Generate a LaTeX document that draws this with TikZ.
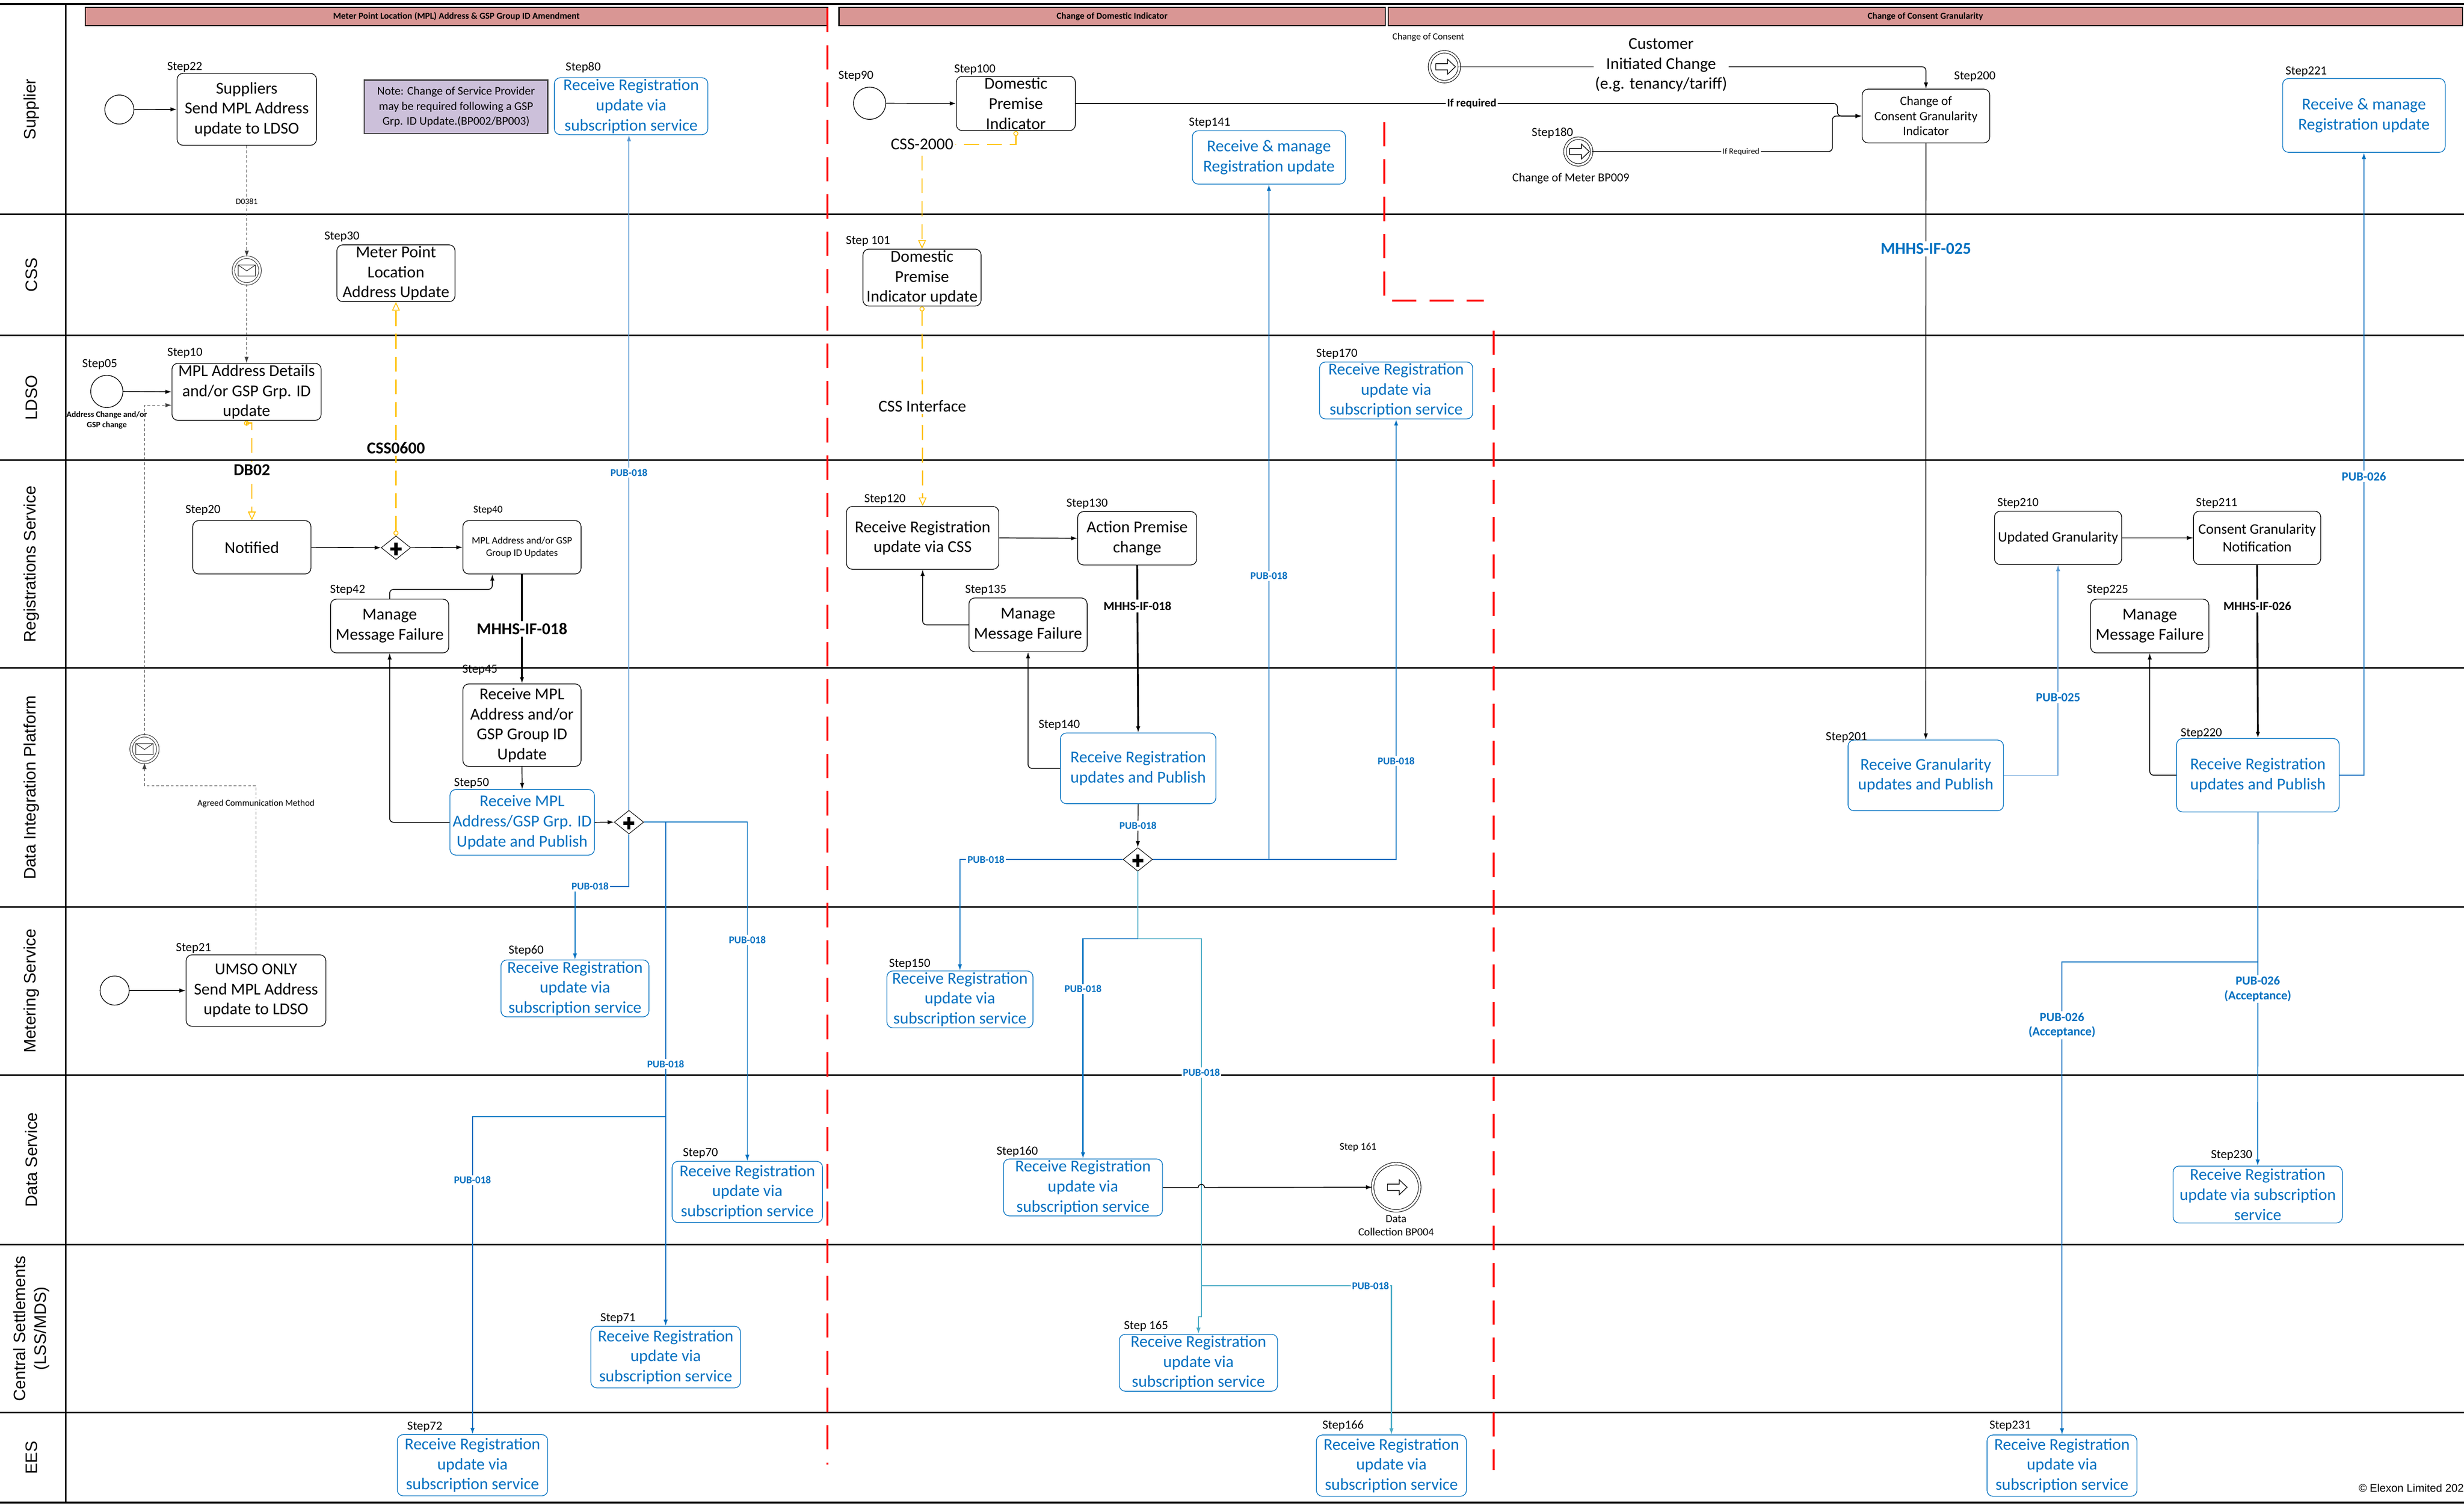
\documentclass[tikz,border=0pt]{standalone}
\usepackage{fontspec}
\setmainfont{Carlito}
\newfontfamily\lanefont{Liberation Sans}
\usetikzlibrary{positioning,arrows,arrows.meta,shapes.geometric}
\definecolor{mhblue}{RGB}{0,112,192}
\definecolor{mhsky}{RGB}{91,155,213}
\definecolor{mhteal}{RGB}{75,172,198}
\definecolor{phasefill}{RGB}{217,150,148}
\definecolor{notefill}{RGB}{204,192,218}
\definecolor{cssyellow}{RGB}{255,192,0}
\newcommand{\boxfont}{\fontsize{12}{14.5}\selectfont}
\newcommand{\stepfont}{\fontsize{9}{10}\selectfont}

\begin{document}
\begin{tikzpicture}[
    >={Latex[length=1.6mm,width=1.1mm]},
    lane/.style={draw=black, line width=1.1pt},
    lanelbl/.style={rotate=90, align=center, inner sep=0pt, font=\lanefont\fontsize{12}{15}\selectfont},
    phasebar/.style={rectangle, draw=black, line width=.8pt, fill=phasefill, minimum height=.46cm, inner sep=0pt, font=\bfseries\fontsize{6.6}{7}\selectfont},
    phase/.style={draw=red, line width=1.4pt, dash pattern=on .62cm off .33cm},
    taskbox/.style={rectangle, rounded corners=1.5mm, draw=black, line width=.5pt, align=center, inner sep=1pt, font=\boxfont},
    bluebox/.style={taskbox, draw=mhblue, text=mhblue},
    notebox/.style={rectangle, draw=black!75, line width=.8pt, fill=notefill, align=center, inner sep=1pt, font=\fontsize{8.5}{10.9}\selectfont},
    plain/.style={align=center, font=\boxfont, inner sep=.03cm},
    boxsize/.style 2 args={minimum width=#1cm, minimum height=#2cm},
    steplbl/.style={font=\stepfont, inner sep=0pt, yshift=.06cm},
    evlbl/.style={inner sep=0pt, align=center, font=\fontsize{8.8}{10.5}\selectfont},
    startev/.style={circle, draw=black, line width=.5pt, inner sep=0pt, minimum size=#1cm},
    msgev/.style={circle, draw=black!85, line width=.4pt, double, double distance=.05cm, inner sep=0pt, minimum size=.68cm,
        path picture={\draw[line width=.4pt, shift={(path picture bounding box.center)}] (-.22,-.14) rectangle (.22,.14) (-.22,.14) -- (0,-.01) -- (.22,.14);}},
    linkev/.style 2 args={circle, draw=black, line width=.4pt, double, double distance=.05cm, inner sep=0pt, minimum size=#1cm,
        path picture={\draw[line width=.5pt, shift={(path picture bounding box.center)}, scale=#2] (-.22,-.08) -- (.08,-.08) -- (.08,-.19) -- (.28,0) -- (.08,.19) -- (.08,.08) -- (-.22,.08) -- cycle;}},
    gateway/.style={diamond, draw=black, line width=.4pt, fill=white, inner sep=0pt, minimum width=.75cm, minimum height=.6cm,
        path picture={\draw[line width=.08cm, shift={(path picture bounding box.center)}] (-.14,-.03) -- (.14,-.03) (0,-.19) -- (0,.13);}},
    flow/.style={->, draw=black, line width=.6pt, rounded corners=.1cm},
    mainflow/.style={flow, line width=1.3pt},
    msgflow/.style={->, draw=black!75, line width=.4pt, dash pattern=on 2pt off 1.5pt},
    cssflow/.style={draw=cssyellow, line width=.9pt, dash pattern=on .38cm off .2cm, arrows={Circle[open,length=1.3mm,line width=.6pt]-Triangle[open,length=2.2mm,width=2mm,line width=.6pt]}},
    publine/.style={draw=mhblue, line width=.7pt},
    skyline/.style={draw=mhsky, line width=.6pt},
    tealline/.style={draw=mhteal, line width=.8pt},
    pub/.style={font=\bfseries\fontsize{7.5}{8.5}\selectfont, text=mhblue, fill=white, inner sep=1pt},
    pubbig/.style={pub, align=center, font=\bfseries\fontsize{9}{10.5}\selectfont},
    ifbig/.style={font=\bfseries\fontsize{12}{14}\selectfont, fill=white, inner sep=1.5pt},
    ifsmall/.style={font=\bfseries\fontsize{9}{11}\selectfont, fill=white, inner sep=1.5pt},
    csslbl/.style={font=\boxfont, fill=white, inner sep=1.5pt},
    msglbl/.style={font=\fontsize{6.5}{7.5}\selectfont, fill=white, inner sep=1pt},
]
\useasboundingbox (0,0) rectangle (62.76,-38.35);

\draw[lane] (0,-.10) -- (62.76,-.10);
\draw[lane] (0,-5.45) -- (62.76,-5.45);
\draw[lane] (0,-8.54) -- (62.76,-8.54);
\draw[lane] (0,-11.72) -- (62.76,-11.72);
\draw[lane] (0,-17.01) -- (62.76,-17.01);
\draw[lane] (0,-23.10) -- (62.76,-23.10);
\draw[lane] (0,-27.38) -- (62.76,-27.38);
\draw[lane] (0,-31.70) -- (62.76,-31.70);
\draw[lane] (0,-35.98) -- (62.76,-35.98);
\draw[lane] (0,-38.27) -- (62.76,-38.27);
\draw[lane] (1.67,-.10) -- (1.67,-38.27);

\node[lanelbl] (lnsup)  at (.80,-2.78)  {Supplier};
\node[lanelbl] (lncss)  at (.80,-7.00)  {CSS};
\node[lanelbl] (lnldso) at (.80,-10.13) {LDSO};
\node[lanelbl] (lnreg)  at (.80,-14.37) {Registrations Service};
\node[lanelbl] (lndip)  at (.80,-20.06) {Data Integration Platform};
\node[lanelbl] (lnms)   at (.80,-25.24) {Metering Service};
\node[lanelbl] (lnds)   at (.80,-29.54) {Data Service};
\node[lanelbl] (lncs)   at (.80,-33.84) {Central Settlements\\(LSS/MDS)};
\node[lanelbl] (lnees)  at (.80,-37.13) {EES};

\node[phasebar, minimum width=18.91cm] (ph1) at (11.625,-.42) {Meter Point Location (MPL) Address \& GSP Group ID Amendment};
\node[phasebar, minimum width=13.91cm] (ph2) at (28.325,-.42) {Change of Domestic Indicator};
\node[phasebar, minimum width=27.36cm] (ph3) at (49.04,-.42)  {Change of Consent Granularity};

\draw[phase] (21.07,-.20) -- (21.07,-37.30);
\draw[phase] (35.26,-3.11) -- (35.26,-7.66) -- (37.79,-7.66);
\draw[phase] (38.04,-8.42) -- (38.04,-37.44);

\node[startev=.74] (start22) at (3.04,-2.79) {};
\node[taskbox, boxsize={3.55}{1.83}, label={[steplbl,xshift=-1.58cm,yshift=-.04cm]above:Step22}] (step22) at (6.285,-2.785) {Suppliers\\Send MPL Address\\update to LDSO};
\node[notebox, boxsize={4.67}{1.36}] (note) at (11.615,-2.72) {Note: Change of Service Provider\\may be required following a GSP\\Grp. ID Update.(BP002/BP003)};
\node[bluebox, boxsize={3.91}{1.37}, label={[steplbl,xshift=-1.22cm,yshift=.05cm]above:Step80}] (step80) at (16.075,-2.705) {Receive Registration\\update via\\subscription service};
\node[msgev] (msg1) at (6.285,-6.89) {};
\node[taskbox, boxsize={3.01}{1.36}, label={[steplbl,xshift=-1.375cm]above:Step30}] (step30) at (10.085,-6.96) {Meter Point\\Location\\Address Update};
\node[startev=.82, label={[steplbl,xshift=-.18cm,yshift=.08cm]above:Step05}, label={[evlbl,font=\bfseries\fontsize{6}{7.4}\selectfont,yshift=-.08cm]below:Address Change and/or\\GSP change}] (start05) at (2.72,-9.97) {};
\node[taskbox, boxsize={3.80}{1.36}, label={[steplbl,xshift=-1.57cm,yshift=.06cm]above:Step10}] (step10) at (6.28,-9.98) {MPL Address Details\\and/or GSP Grp. ID\\update};
\node[taskbox, boxsize={3.01}{1.36}, label={[steplbl,xshift=-1.245cm,yshift=.06cm]above:Step20}] (step20) at (6.415,-13.94) {Notified};
\node[gateway] (gw1) at (10.085,-13.95) {};
\node[taskbox, boxsize={3.01}{1.36}, font=\fontsize{7.2}{9}\selectfont, label={[steplbl,font=\fontsize{7.5}{9}\selectfont,xshift=-.865cm,yshift=.08cm]above:Step40}] (step40) at (13.295,-13.94) {MPL Address and/or GSP\\Group ID Updates};
\node[taskbox, boxsize={3.01}{1.37}, label={[steplbl,xshift=-1.07cm,yshift=.03cm]above:Step42}] (step42) at (9.925,-15.945) {Manage\\Message Failure};
\node[taskbox, boxsize={3.01}{2.10}, label={[steplbl,xshift=-1.07cm,yshift=.15cm]above:Step45}] (step45) at (13.295,-18.47) {Receive MPL\\Address and/or\\GSP Group ID\\Update};
\node[bluebox, boxsize={3.68}{1.67}, label={[steplbl,xshift=-1.29cm,yshift=-.04cm]above:Step50}] (step50) at (13.30,-20.945) {Receive MPL\\Address/GSP Grp. ID\\Update and Publish};
\node[gateway] (gw2) at (16.02,-20.94) {};
\node[msgev] (msg2) at (3.68,-19.08) {};
\node[startev=.74] (start21) at (2.92,-25.23) {};
\node[taskbox, boxsize={3.56}{1.82}, label={[steplbl,xshift=-1.59cm,yshift=-.04cm]above:Step21}] (step21) at (6.52,-25.23) {UMSO ONLY\\Send MPL Address\\update to LDSO};
\node[bluebox, boxsize={3.77}{1.37}, label={[steplbl,xshift=-1.245cm,yshift=.03cm]above:Step60}] (step60) at (14.645,-25.175) {Receive Registration\\update via\\subscription service};
\node[bluebox, boxsize={3.83}{1.56}, label={[steplbl,xshift=-1.195cm]above:Step70}] (step70) at (19.035,-30.36) {Receive Registration\\update via\\subscription service};
\node[bluebox, boxsize={3.81}{1.57}, label={[steplbl,xshift=-1.215cm]above:Step71}] (step71) at (16.955,-34.565) {Receive Registration\\update via\\subscription service};
\node[bluebox, boxsize={3.83}{1.56}, label={[steplbl,xshift=-1.215cm]above:Step72}] (step72) at (12.035,-37.32) {Receive Registration\\update via\\subscription service};

\node[startev=.82, label={[steplbl,xshift=-.35cm,yshift=.08cm]above:Step90}] (start90) at (22.15,-2.63) {};
\node[taskbox, boxsize={3.03}{1.37}, label={[steplbl,xshift=-1.045cm,yshift=-.03cm]above:Step100}] (step100) at (25.875,-2.635) {Domestic\\Premise\\Indicator};
\node[taskbox, boxsize={3.01}{1.36}, label={[steplbl,xshift=-1.375cm]above:Step 101}] (step101) at (23.485,-7.07) {Domestic\\Premise\\Indicator update};
\node[bluebox, boxsize={3.90}{1.36}, label={[steplbl,xshift=-1.51cm]above:Step141}] (step141) at (32.32,-4.01) {Receive \& manage\\Registration update};
\node[bluebox, boxsize={3.90}{1.37}, label={[steplbl,xshift=-1.51cm]above:Step170}] (step170) at (35.56,-9.945) {Receive Registration\\update via\\subscription service};
\node[taskbox, boxsize={3.88}{1.60}, label={[steplbl,xshift=-.96cm,yshift=-.02cm]above:Step120}] (step120) at (23.50,-13.70) {Receive Registration\\update via CSS};
\node[taskbox, boxsize={3.03}{1.36}, label={[steplbl,xshift=-1.275cm]above:Step130}] (step130) at (28.965,-13.71) {Action Premise\\change};
\node[taskbox, boxsize={3.01}{1.37}, label={[steplbl,xshift=-1.075cm]above:Step135}] (step135) at (26.185,-15.915) {Manage\\Message Failure};
\node[bluebox, boxsize={3.96}{1.80}, label={[steplbl,xshift=-2.01cm]above:Step140}] (step140) at (28.99,-19.57) {Receive Registration\\updates and Publish};
\node[gateway] (gw3) at (28.98,-21.89) {};
\node[bluebox, boxsize={3.72}{1.37}, label={[steplbl,xshift=-1.28cm,yshift=-.03cm]above:Step150}] (step150) at (24.45,-25.455) {Receive Registration\\update via\\subscription service};
\node[bluebox, boxsize={4.05}{1.37}, label={[steplbl,xshift=-1.675cm,yshift=-.02cm]above:Step160}] (step160) at (27.585,-30.245) {Receive Registration\\update via\\subscription service};
\node[linkev={1.2}{1.55}, label={[steplbl,font=\fontsize{7.5}{9}\selectfont,xshift=-.97cm,yshift=.23cm]above:Step 161}, label={[evlbl,font=\fontsize{8}{9.5}\selectfont,yshift=-.1cm]below:Data\\Collection BP004}] (ev161) at (35.56,-30.24) {};
\node[bluebox, boxsize={4.03}{1.36}, label={[steplbl,xshift=-1.335cm]above:Step 165}] (step165) at (30.525,-34.71) {Receive Registration\\update via\\subscription service};
\node[bluebox, boxsize={3.82}{1.56}, label={[steplbl,xshift=-1.23cm,yshift=.03cm]above:Step166}] (step166) at (35.44,-37.33) {Receive Registration\\update via\\subscription service};

\node[linkev={.76}{1}, label={[evlbl,font=\fontsize{6.8}{8}\selectfont,xshift=-.41cm,yshift=.25cm]above:Change of Consent}] (consentEv) at (36.79,-1.70) {};
\node[plain] (cust) at (42.31,-1.66) {Customer\\Initiated Change\\(e.g. tenancy/tariff)};
\node[taskbox, boxsize={3.25}{1.37}, font=\fontsize{9.2}{10.9}\selectfont, label={[steplbl,xshift=1.245cm,yshift=.12cm]above:Step200}] (step200) at (49.055,-2.955) {Change of\\Consent Granularity\\Indicator};
\node[linkev={.68}{1.05}, label={[steplbl,xshift=-.66cm,yshift=-.08cm]above:Step180}, label={[evlbl,xshift=-.19cm,yshift=-.2cm]below:Change of Meter BP009}] (ev180) at (40.20,-3.86) {};
\node[bluebox, boxsize={4.14}{1.88}, label={[steplbl,xshift=-1.47cm,yshift=-.03cm]above:Step221}] (step221) at (60.21,-2.94) {Receive \& manage\\Registration update};
\node[taskbox, boxsize={3.24}{1.36}, font=\fontsize{10.5}{12.6}\selectfont, label={[steplbl,xshift=-1.02cm]above:Step210}] (step210) at (52.42,-13.70) {Updated Granularity};
\node[taskbox, boxsize={3.24}{1.36}, font=\fontsize{10.5}{12.6}\selectfont, label={[steplbl,xshift=-1.03cm]above:Step211}] (step211) at (57.49,-13.70) {Consent Granularity\\Notification};
\node[taskbox, boxsize={3.01}{1.37}, label={[steplbl,xshift=-1.075cm,yshift=.03cm]above:Step225}] (step225) at (54.755,-15.945) {Manage\\Message Failure};
\node[bluebox, boxsize={3.96}{1.80}, label={[steplbl,xshift=-2.02cm,yshift=-.14cm]above:Step201}] (step201) at (49.05,-19.75) {Receive Granularity\\updates and Publish};
\node[bluebox, boxsize={4.14}{1.87}, label={[steplbl,xshift=-1.44cm,yshift=-.07cm]above:Step220}] (step220) at (57.51,-19.745) {Receive Registration\\updates and Publish};
\node[bluebox, boxsize={4.31}{1.45}, label={[steplbl,xshift=-.665cm,yshift=.07cm]above:Step230}] (step230) at (57.505,-30.425) {Receive Registration\\update via subscription\\service};
\node[bluebox, boxsize={3.82}{1.56}, label={[steplbl,xshift=-1.32cm,yshift=.03cm]above:Step231}] (step231) at (52.52,-37.33) {Receive Registration\\update via\\subscription service};
\node[font=\lanefont\fontsize{8}{9}\selectfont, anchor=east, inner sep=0pt] (copyr) at (62.76,-37.90) {© Elexon Limited 202};

\coordinate (b72) at (16.955,-28.44);
\coordinate (split3) at (28.98,-23.91);
\coordinate (pubdn) at (30.60,-23.91);
\coordinate (jog165) at (30.60,-33.54);
\coordinate (b166) at (30.60,-32.75);
\coordinate (hop) at (30.52,-30.245);
\coordinate (split220) at (57.51,-24.50);

\draw[flow] (start22.east) -- (step22.west);
\draw[msgflow] (step22.south) -- node[msglbl,font=\fontsize{6}{7}\selectfont]{D0381} (msg1.north);
\draw[msgflow] (msg1.south) -- (step10.north);
\draw[flow] (start05.east) -- (step10.west);
\draw[msgflow] (msg2.north) |- ([yshift=-.34cm]step10.west);
\draw[msgflow] (step21.north) -- node[msglbl,pos=.895]{Agreed Communication Method} ++(0,4.30) -| (msg2.south);
\draw[cssflow] (step10.south) -- ++(0,-.06) -| node[ifbig,pos=.74]{DB02} (step20.north);
\draw[cssflow] (gw1.north) -- node[ifbig,pos=.374]{CSS0600} (step30.south);
\draw[flow] (step20.east) -- (gw1.west);
\draw[flow] (gw1.east) -- (step40.west);
\draw[flow] (step42.north) -- ++(0,.24) -| ([xshift=-.755cm]step40.south);
\draw[mainflow] (step40.south) -- node[ifbig]{MHHS-IF-018} (step45.north);
\draw[flow] (step45.south) -- (step50.north);
\draw[flow] (step50.west) -| (step42.south);
\draw[flow] (step50.east) -- (gw2.west);
\draw[flow] (start21.east) -- (step21.west);
\draw[skyline,->] (gw2.north) -- node[pub]{PUB-018} (gw2.north |- step80.south);
\draw[publine,->] (gw2.south) -- ++(0,-1.33) -| node[pub,pos=.36]{PUB-018} (step60.north);
\draw[publine,->] (gw2.east) -| node[pub,pos=.674]{PUB-018} (step70.north);
\draw[publine,->] (gw2.east -| step71.north) -- node[pub,pos=.48]{PUB-018} (step71.north);
\draw[publine,->] (b72) -| node[pub,pos=.6]{PUB-018} (step72.north);

\draw[flow] (start90.east) -- (step100.west);
\draw[cssflow] (step100.south) -- ++(0,-.34) -| node[csslbl,pos=.5]{CSS-2000} (step101.north);
\draw[cssflow] (step101.south) -- node[csslbl]{CSS Interface} (step120.north);
\draw[flow] (step120.east) -- (step130.west);
\draw[flow] (step135.west) -| (step120.south);
\draw[mainflow] (step130.south) -- node[ifsmall,pos=.243]{MHHS-IF-018} (step140.north);
\draw[flow] (step140.west) -| (step135.south);
\draw[flow] (step140.south) -- node[pub]{PUB-018} (gw3.north);
\draw[publine,->,line width=1pt] (gw3.east) -| node[pub,pos=.612]{PUB-018} (step170.south);
\draw[publine,->] (gw3.east -| step141.south) -- node[pub,pos=.42]{PUB-018} (step141.south);
\draw[publine,->] (gw3.west) -| node[pub,pos=.42]{PUB-018} (step150.north);
\draw[tealline,->] (gw3.south) -- (split3) -- (pubdn) -- node[pub,pos=.354]{PUB-018} (jog165) -| (step165.north);
\draw[publine,->,line width=1pt] (split3) -| node[pub,pos=.614]{PUB-018} (step160.north);
\draw[tealline,->] (b166) -| node[pub,pos=.445]{PUB-018} (step166.north);
\draw[flow,sharp corners] (step160.east) -- (hop) arc[start angle=180, end angle=0, radius=.08] -- (ev161.west);

\draw[flow] (step100.east) -| node[font=\bfseries\fontsize{8.2}{10}\selectfont, fill=white, inner sep=1pt, pos=.26]{If required} ([xshift=-.62cm]step200.west) -- (step200.west);
\draw[flow,-] (consentEv.east) -- (consentEv.east -| cust.west);
\draw[flow] (cust.east |- consentEv.east) -| (step200.north);
\draw[flow] (ev180.east) -| node[font=\fontsize{6}{7}\selectfont, fill=white, inner sep=1pt, pos=.31]{If Required} ([xshift=-.75cm]step200.west) -- (step200.west);
\draw[flow] (step200.south) -- node[ifbig,text=mhblue,pos=.177]{MHHS-IF-025} (step201.north);
\draw[skyline,->] (step201.east) -| node[pubbig,pos=.685]{PUB-025} (step210.south);
\draw[flow] (step210.east) -- (step211.west);
\draw[mainflow] (step211.south) -- node[ifsmall,pos=.237]{MHHS-IF-026} (step220.north);
\draw[flow] (step220.west) -| (step225.south);
\draw[publine,->] (step220.east) -| node[pubbig,pos=.74]{PUB-026} (step221.south);
\draw[publine,->] (step220.south) -- node[pubbig]{PUB-026\\(Acceptance)} (step230.north);
\draw[publine,->] (split220) -| node[pubbig,pos=.567]{PUB-026\\(Acceptance)} (step231.north);
\end{tikzpicture}
\end{document}
